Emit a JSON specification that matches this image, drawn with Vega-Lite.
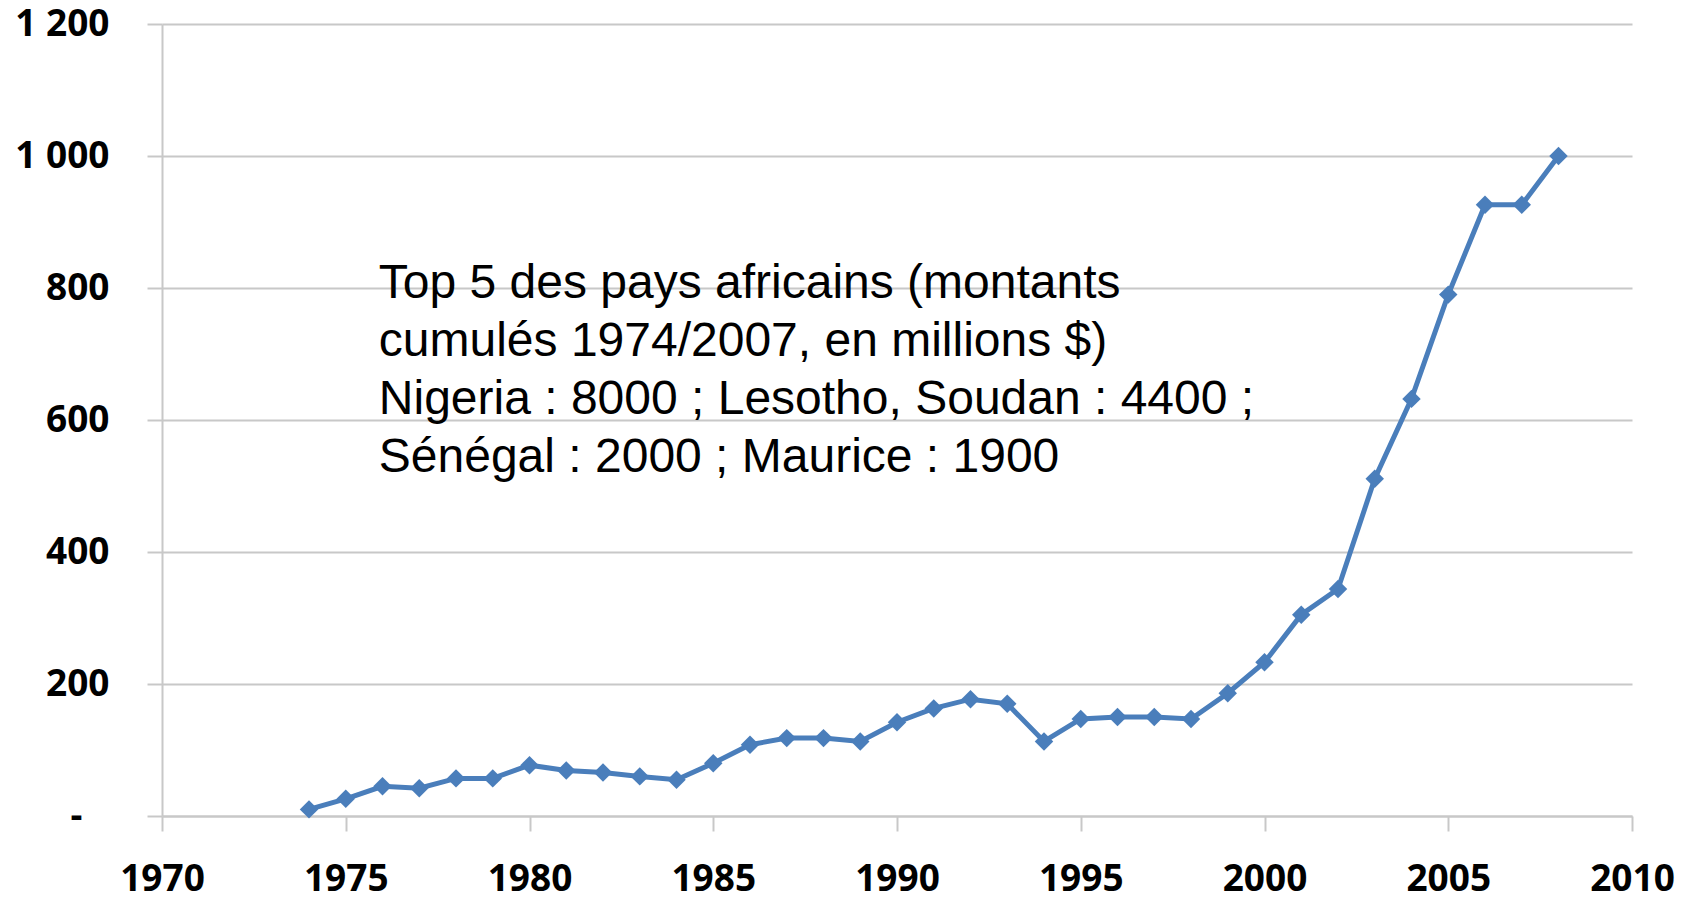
{
  "$schema": "https://vega.github.io/schema/vega-lite/v6.json",
  "width": 1470,
  "height": 792,
  "autosize": "none",
  "padding": {"left": 162, "top": 24, "right": 60, "bottom": 84},
  "background": "white",
  "config": {"view": {"stroke": null}},
  "data": {
    "values": [
      {"year": 1974, "value": 10},
      {"year": 1975, "value": 26},
      {"year": 1976, "value": 45},
      {"year": 1977, "value": 42},
      {"year": 1978, "value": 57},
      {"year": 1979, "value": 57},
      {"year": 1980, "value": 77},
      {"year": 1981, "value": 69},
      {"year": 1982, "value": 66},
      {"year": 1983, "value": 60},
      {"year": 1984, "value": 55},
      {"year": 1985, "value": 80},
      {"year": 1986, "value": 108},
      {"year": 1987, "value": 118},
      {"year": 1988, "value": 118},
      {"year": 1989, "value": 113},
      {"year": 1990, "value": 142},
      {"year": 1991, "value": 163},
      {"year": 1992, "value": 177},
      {"year": 1993, "value": 170},
      {"year": 1994, "value": 113},
      {"year": 1995, "value": 147},
      {"year": 1996, "value": 150},
      {"year": 1997, "value": 150},
      {"year": 1998, "value": 147},
      {"year": 1999, "value": 186},
      {"year": 2000, "value": 233},
      {"year": 2001, "value": 305},
      {"year": 2002, "value": 344},
      {"year": 2003, "value": 511},
      {"year": 2004, "value": 632},
      {"year": 2005, "value": 790},
      {"year": 2006, "value": 926},
      {"year": 2007, "value": 926},
      {"year": 2008, "value": 1000}
    ]
  },
  "layer": [
    {
      "mark": {
        "type": "line",
        "color": "#4a7ebb",
        "strokeWidth": 5,
        "point": {"shape": "diamond", "size": 340, "filled": true, "color": "#4a7ebb"}
      },
      "encoding": {
        "x": {
          "field": "year",
          "type": "quantitative",
          "scale": {"domain": [1970, 2010], "nice": false, "zero": false},
          "axis": {
            "title": null,
            "values": [1970, 1975, 1980, 1985, 1990, 1995, 2000, 2005, 2010],
            "format": "d",
            "grid": false,
            "domain": true,
            "domainColor": "#c8c8c8",
            "domainWidth": 2,
            "ticks": true,
            "tickSize": 15,
            "tickColor": "#c8c8c8",
            "tickWidth": 2,
            "labelFont": "Open Sans",
            "labelFontSize": 37,
            "labelFontWeight": "bold",
            "labelColor": "#000000",
            "labelPadding": 30,
            "labelFlush": false,
            "labelOverlap": false
          }
        },
        "y": {
          "field": "value",
          "type": "quantitative",
          "scale": {"domain": [0, 1200], "nice": false},
          "axis": {
            "title": null,
            "values": [0, 200, 400, 600, 800, 1000, 1200],
            "labelExpr": "datum.value == 0 ? '-\u2800' : replace(format(datum.value, ','), ',', ' ')",
            "grid": true,
            "gridColor": "#c8c8c8",
            "gridWidth": 2,
            "domain": true,
            "domainColor": "#c8c8c8",
            "domainWidth": 2,
            "ticks": true,
            "tickSize": 15,
            "tickColor": "#c8c8c8",
            "tickWidth": 2,
            "labelFont": "Open Sans",
            "labelFontSize": 37,
            "labelFontWeight": "bold",
            "labelColor": "#000000",
            "labelPadding": 38,
            "labelFlush": false,
            "labelOverlap": false
          }
        }
      }
    },
    {
      "data": {"values": [{"note": 1}]},
      "mark": {
        "type": "text",
        "align": "left",
        "baseline": "top",
        "font": "Liberation Sans",
        "fontSize": 48,
        "lineHeight": 58,
        "color": "#000000",
        "text": [
          "Top 5 des pays africains (montants",
          "cumulés 1974/2007, en millions $)",
          "Nigeria : 8000 ; Lesotho, Soudan : 4400 ;",
          "Sénégal : 2000 ; Maurice : 1900"
        ]
      },
      "encoding": {
        "x": {"datum": 1975.9, "type": "quantitative"},
        "y": {"datum": 843, "type": "quantitative"}
      }
    }
  ]
}
